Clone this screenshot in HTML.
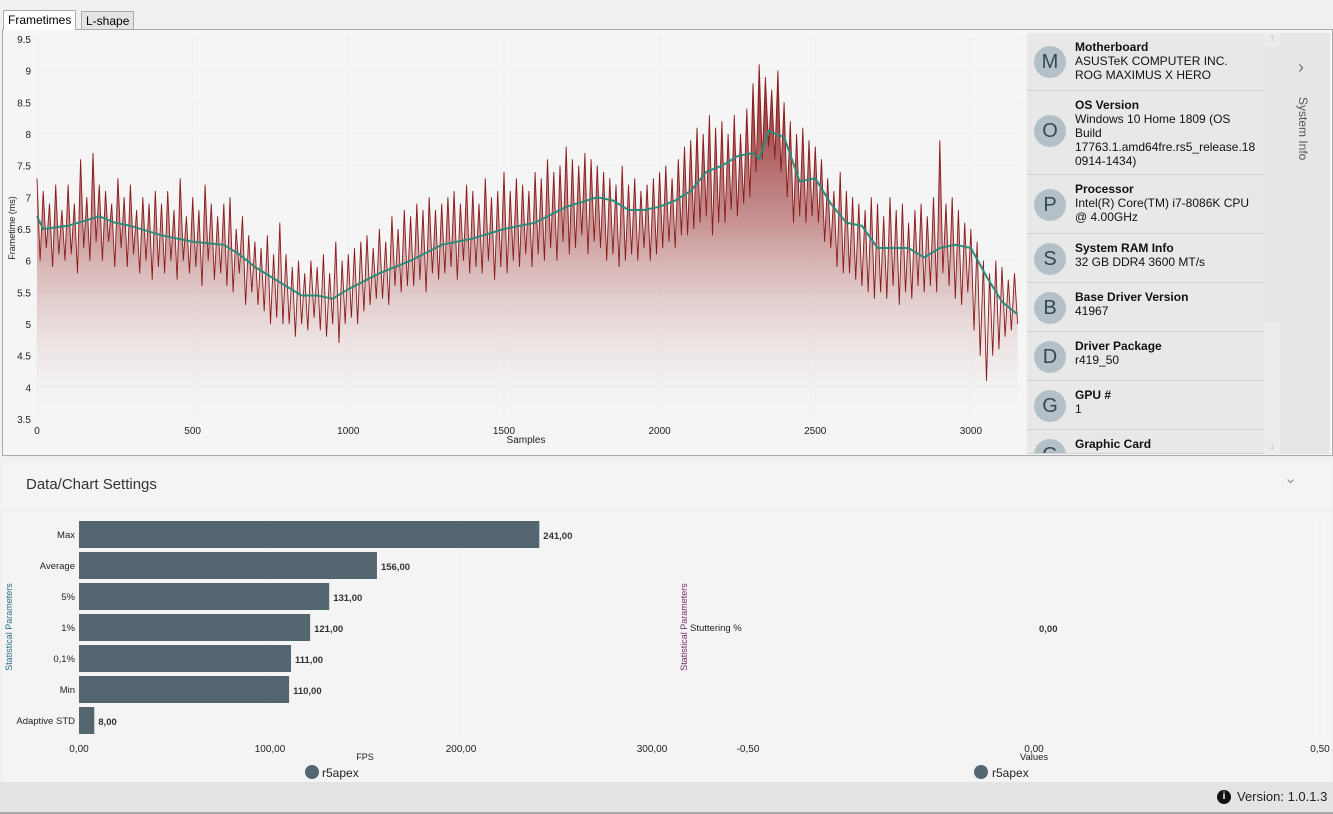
<!DOCTYPE html>
<html><head><meta charset="utf-8">
<style>
body{margin:0;width:1333px;height:814px;background:#f0f0f0;font-family:"Liberation Sans",sans-serif;overflow:hidden;position:relative}
.abs{position:absolute}
.tab{position:absolute;font-size:12px;padding:0 4px;height:18px;line-height:18px;border:1px solid #aaa;border-bottom:none}
.row{position:absolute;left:1027px;width:237px;border-bottom:1px solid #d2d2d2;background:#e8e8e8}
.row .c{position:absolute;left:7px;width:32px;height:32px;border-radius:50%;background:#b3c0c7;color:#37474f;font-size:20px;text-align:center;line-height:32px}
.row .t{position:absolute;left:48px;top:7px;font-size:12px;line-height:14px;color:#111;width:176px;word-break:break-all}
.row b{display:block}
</style></head><body>
<div class="tab" style="left:3px;top:10px;background:#fff;height:19px;z-index:2">Frametimes</div>
<div class="tab" style="left:81px;top:11px;background:#e4e4e4">L-shape</div>
<div class="abs" style="left:2px;top:29px;width:1329px;height:425px;border:1px solid #aaa;background:#f5f5f5"></div>
<svg class="abs" id="ft" style="left:0;top:0" width="1025" height="455"></svg>
<div class="abs" style="left:1027px;top:33px;width:253px;height:421px;overflow:hidden;background:#e8e8e8">
</div>
<div id="rows"></div>
<div class="abs" style="left:1264px;top:33px;width:16px;height:421px;background:#ececec"><div style="color:#aaa;font-size:10px;text-align:center">↑</div><div style="position:absolute;bottom:2px;width:16px;color:#aaa;font-size:10px;text-align:center">↓</div><div style="position:absolute;top:14px;left:0;width:16px;height:276px;background:#e6e6e6"></div></div>
<div class="abs" style="left:1280px;top:33px;width:50px;height:421px;background:#e6e6e6">
<div style="position:absolute;left:18px;top:24px;font-size:18px;color:#777">›</div>
<div style="position:absolute;left:16px;top:64px;writing-mode:vertical-rl;font-size:12px;color:#555">System Info</div></div>
<div class="abs" style="left:2px;top:462px;width:1329px;height:46px;background:#f4f4f4">
<div style="position:absolute;left:24px;top:14px;font-size:15px;color:#333">Data/Chart Settings</div>
<div style="position:absolute;left:1286px;top:10px;font-size:16px;color:#888;transform:rotate(90deg)">›</div></div>
<div class="abs" style="left:2px;top:512px;width:1329px;height:270px;background:#f4f4f4"></div>
<svg class="abs" id="bars" style="left:0;top:512px" width="1333" height="270"></svg>
<div class="abs" style="left:0;top:782px;width:1333px;height:30px;background:#e4e4e4;border-bottom:2px solid #aaa">
<div style="position:absolute;left:1217px;top:8px;width:14px;height:14px;border-radius:50%;background:#111;color:#fff;font-size:10px;font-weight:bold;text-align:center;line-height:14px">i</div>
<div style="position:absolute;left:1237px;top:7px;font-size:13px;color:#222">Version: 1.0.1.3</div></div>
<script>
const ftValues=[7.3,6.0,7.1,6.2,6.9,5.9,7.2,6.1,6.8,6.0,7.2,6.1,6.9,5.8,7.6,6.2,7.0,6.0,7.7,6.3,
7.2,6.0,7.1,6.3,6.9,5.9,7.3,6.2,7.0,5.9,7.2,6.1,6.8,5.8,7.0,6.0,6.9,5.7,7.1,5.9,
6.9,5.8,7.1,6.0,6.8,5.7,7.3,6.0,6.7,5.8,7.0,5.9,6.8,5.6,7.2,6.0,6.9,5.7,6.7,5.8,
6.9,5.6,7.0,5.5,6.5,5.8,6.7,5.3,6.4,5.5,6.3,5.3,6.2,5.2,6.4,5.0,6.1,5.1,6.6,5.0,
6.1,5.0,5.9,4.8,6.0,5.0,5.8,4.9,6.0,5.1,5.9,4.9,6.1,4.8,5.8,5.0,6.3,4.7,6.0,5.0,
6.1,5.1,6.2,5.0,6.3,5.2,6.4,5.3,6.2,5.4,6.5,5.4,6.3,5.3,6.7,5.6,6.5,5.5,6.8,5.6,
6.7,5.6,6.9,5.7,6.8,5.5,7.0,5.8,6.8,5.7,6.9,5.8,7.0,5.9,7.1,5.7,6.9,6.0,7.2,5.8,
7.1,5.9,6.9,5.8,7.3,6.0,7.0,5.7,7.1,5.9,7.4,5.8,7.1,6.0,7.3,5.9,7.2,6.1,7.1,5.9,
7.4,6.1,7.3,6.0,7.6,6.2,7.4,6.0,7.5,6.3,7.8,6.1,7.6,6.2,7.5,6.4,7.7,6.1,7.6,6.3,
7.5,6.2,7.4,6.0,7.3,6.1,7.2,5.9,7.5,6.0,7.2,6.1,7.3,6.0,7.1,6.2,7.2,6.0,7.3,6.1,
7.4,6.2,7.5,6.3,7.3,6.2,7.6,6.4,7.8,6.4,7.9,6.5,8.1,6.6,8.0,6.7,8.3,6.4,8.1,6.6,
8.2,6.6,8.0,6.8,8.3,6.7,8.0,6.9,8.4,7.0,8.8,7.4,9.1,7.6,8.9,7.8,8.7,7.6,9.0,7.4,
8.5,7.0,8.2,6.6,8.0,6.7,8.1,6.6,7.9,6.7,7.8,6.6,7.6,6.3,7.3,6.2,7.1,5.9,7.4,5.8,
7.1,5.8,7.0,5.7,6.9,5.6,6.8,5.5,7.0,5.4,6.9,5.5,6.7,5.4,7.0,5.6,6.8,5.3,6.9,5.5,
6.6,5.4,6.8,5.6,6.9,5.5,6.7,5.6,7.0,5.5,7.9,5.8,6.9,5.6,7.0,5.4,6.8,5.3,6.6,5.5,
6.5,4.9,6.3,4.5,6.0,4.1,5.8,4.5,6.0,4.6,5.9,4.8,5.7,4.9,5.8,5.0];
const ftStep=10;
const avgSamples=[0,20,100,200,250,300,400,500,600,650,700,800,850,900,950,1000,1100,1200,1300,1400,1500,1600,1700,1800,1850,1900,1950,2000,2050,2100,2150,2200,2250,2300,2320,2350,2400,2450,2500,2550,2600,2650,2700,2750,2800,2850,2900,2950,3000,3050,3100,3150];
const avgValues=[6.7,6.5,6.55,6.7,6.6,6.55,6.4,6.3,6.25,6.1,5.9,5.6,5.45,5.45,5.4,5.55,5.8,6.0,6.25,6.35,6.5,6.6,6.85,7.0,6.95,6.8,6.8,6.85,6.95,7.1,7.4,7.5,7.65,7.7,7.6,8.05,7.95,7.25,7.3,6.9,6.6,6.55,6.2,6.2,6.2,6.05,6.2,6.25,6.2,5.75,5.35,5.15];
const yTicks=[3.5,4,4.5,5,5.5,6,6.5,7,7.5,8,8.5,9,9.5];
const xTicks=[0,500,1000,1500,2000,2500,3000];
const barCats=["Max","Average","5%","1%","0,1%","Min","Adaptive STD"];
const barVals=[241,156,131,121,111,110,8];
const fpsTicks=[0,100,200,300];
const stutCats=["Stuttering %"];
const stutVals=[0];
const valTicks=[-0.5,0,0.5];

const NS="http://www.w3.org/2000/svg";
function mk(p,tag,attrs,txt){const e=document.createElementNS(NS,tag);for(const k in attrs)e.setAttribute(k,attrs[k]);if(txt!==undefined)e.textContent=txt;p.appendChild(e);return e;}
const fmt=v=>v.toFixed(2).replace('.',',');

const ft=document.getElementById('ft');
const X=s=>37+s*0.3113, Y=v=>419-(v-3.5)*63.33;
const defs=mk(ft,'defs',{});
const lg=mk(defs,'linearGradient',{id:'g',x1:0,y1:0,x2:0,y2:1});
mk(lg,'stop',{offset:'0','stop-color':'#8b1a1a','stop-opacity':'1'});
mk(lg,'stop',{offset:'0.45','stop-color':'#b56a6a','stop-opacity':'0.7'});
mk(lg,'stop',{offset:'1','stop-color':'#f5f5f5','stop-opacity':'0.1'});
yTicks.forEach(t=>{
 let l=mk(ft,'line',{x1:37,x2:1020,y1:Y(t),y2:Y(t),stroke:'#efefef'});
 
 
 let tx=mk(ft,'text',{x:31,y:Y(t)+4,'text-anchor':'end','font-size':10,fill:'#222'},String(t));
 
 
});
xTicks.forEach(t=>{
 let l=mk(ft,'line',{x1:X(t),x2:X(t),y1:36,y2:419,stroke:'#efefef'});
 
 
 let tx=mk(ft,'text',{x:X(t),y:434,'text-anchor':'middle','font-size':10,fill:'#222'},String(t));
 
 
});
let pts=ftValues.map((v,i)=>X(i*ftStep).toFixed(1)+','+Y(v).toFixed(1));
let area=mk(ft,'path',{d:'M'+X(0)+','+Y(3.5)+' L'+pts.join(' L')+' L'+X((ftValues.length-1)*ftStep)+','+Y(3.5)+'Z',fill:'url(#g)'});


let ln=mk(ft,'polyline',{points:pts.join(' '),fill:'none',stroke:'#8b1a1a','stroke-width':0.9});


let av=mk(ft,'polyline',{points:avgSamples.map((s,i)=>X(s).toFixed(1)+','+Y(avgValues[i]).toFixed(1)).join(' '),fill:'none',stroke:'#2e8b7a','stroke-width':2});


let xt=mk(ft,'text',{x:526,y:443,'text-anchor':'middle','font-size':10,fill:'#222'},'Samples');


let yt=mk(ft,'text',{x:15,y:228,'text-anchor':'middle','font-size':9,fill:'#222',transform:'rotate(-90 15 228)'},'Frametime (ms)');



const info=[["M","Motherboard","ASUSTeK COMPUTER INC. ROG MAXIMUS X HERO",33,58],["O","OS Version","Windows 10 Home 1809 (OS<br>Build<br>17763.1.amd64fre.rs5_release.18<br>0914-1434)",91,84],["P","Processor","Intel(R) Core(TM) i7-8086K CPU @ 4.00GHz",175,59],["S","System RAM Info","32 GB DDR4 3600 MT/s",234,49],["B","Base Driver Version","41967",283,49],["D","Driver Package","r419_50",332,49],["G","GPU #","1",381,49],["G","Graphic Card","",430,24]];
const rows=document.getElementById('rows');
info.forEach(r=>{
 const d=document.createElement('div');d.className='row';
 d.style.top=r[3]+'px';d.style.height=(r[4]-1)+'px';d.style.overflow='hidden';
 d.innerHTML='<div class="c" style="top:'+(r[4]>30?Math.min(r[4]/2-16,24):9)+'px">'+r[0]+'</div><div class="t" style="'+(r[1]==='OS Version'?'word-break:normal;width:190px':'word-break:normal')+'"><b>'+r[1]+'</b>'+r[2]+'</div>';
 
 
 rows.appendChild(d);
});

const b=document.getElementById('bars');
const BX=v=>79+v*1.91;
fpsTicks.forEach(t=>{
 let l=mk(b,'line',{x1:BX(t),x2:BX(t),y1:6,y2:228,stroke:'#efefef'});
 
 
 let tx=mk(b,'text',{x:BX(t),y:240,'text-anchor':'middle','font-size':10,fill:'#222'},fmt(t));
 
 
});
barCats.forEach((c,i)=>{
 const y=9+i*31;
 let r=mk(b,'rect',{x:BX(0),y:y,width:BX(barVals[i])-BX(0),height:27,fill:'#546670'});
 
 
 let l=mk(b,'text',{x:75,y:y+17,'text-anchor':'end','font-size':9.5,fill:'#222'},c);
 
 
 let v=mk(b,'text',{x:BX(barVals[i])+4,y:y+18,'font-size':9.5,'font-weight':'bold',fill:'#333'},fmt(barVals[i]));
 
 
});
let ft1=mk(b,'text',{x:365,y:248,'text-anchor':'middle','font-size':9,fill:'#222'},'FPS');


let st1=mk(b,'text',{x:12,y:115,'text-anchor':'middle','font-size':9,fill:'#2a6f8a',transform:'rotate(-90 12 115)'},'Statistical Parameters');


let lc=mk(b,'circle',{cx:312,cy:260,r:7,fill:'#546670'});


let lt=mk(b,'text',{x:322,y:265,'font-size':12,fill:'#222'},'r5apex');



const VX=v=>1034+v*572;
valTicks.forEach(t=>{
 let l=mk(b,'line',{x1:VX(t),x2:VX(t),y1:6,y2:228,stroke:'#efefef'});
 
 
 let tx=mk(b,'text',{x:VX(t),y:240,'text-anchor':'middle','font-size':10,fill:'#222'},fmt(t));
 
 
});
stutCats.forEach((c,i)=>{
 let l=mk(b,'text',{x:690,y:119,'font-size':9.5,fill:'#222'},c);
 
 
 let r=mk(b,'rect',{x:VX(0),y:103,width:Math.abs(VX(stutVals[i])-VX(0)),height:27,fill:'#546670'});
 
 
 let v=mk(b,'text',{x:VX(stutVals[i])+5,y:120,'font-size':9.5,'font-weight':'bold',fill:'#333'},fmt(stutVals[i]));
 
 
});
let vt=mk(b,'text',{x:1034,y:248,'text-anchor':'middle','font-size':9.5,fill:'#222'},'Values');


let st2=mk(b,'text',{x:687,y:115,'text-anchor':'middle','font-size':9,fill:'#7a2b6a',transform:'rotate(-90 687 115)'},'Statistical Parameters');


let lc2=mk(b,'circle',{cx:981,cy:260,r:7,fill:'#546670'});


let lt2=mk(b,'text',{x:992,y:265,'font-size':12,fill:'#222'},'r5apex');


</script>
</body></html>
